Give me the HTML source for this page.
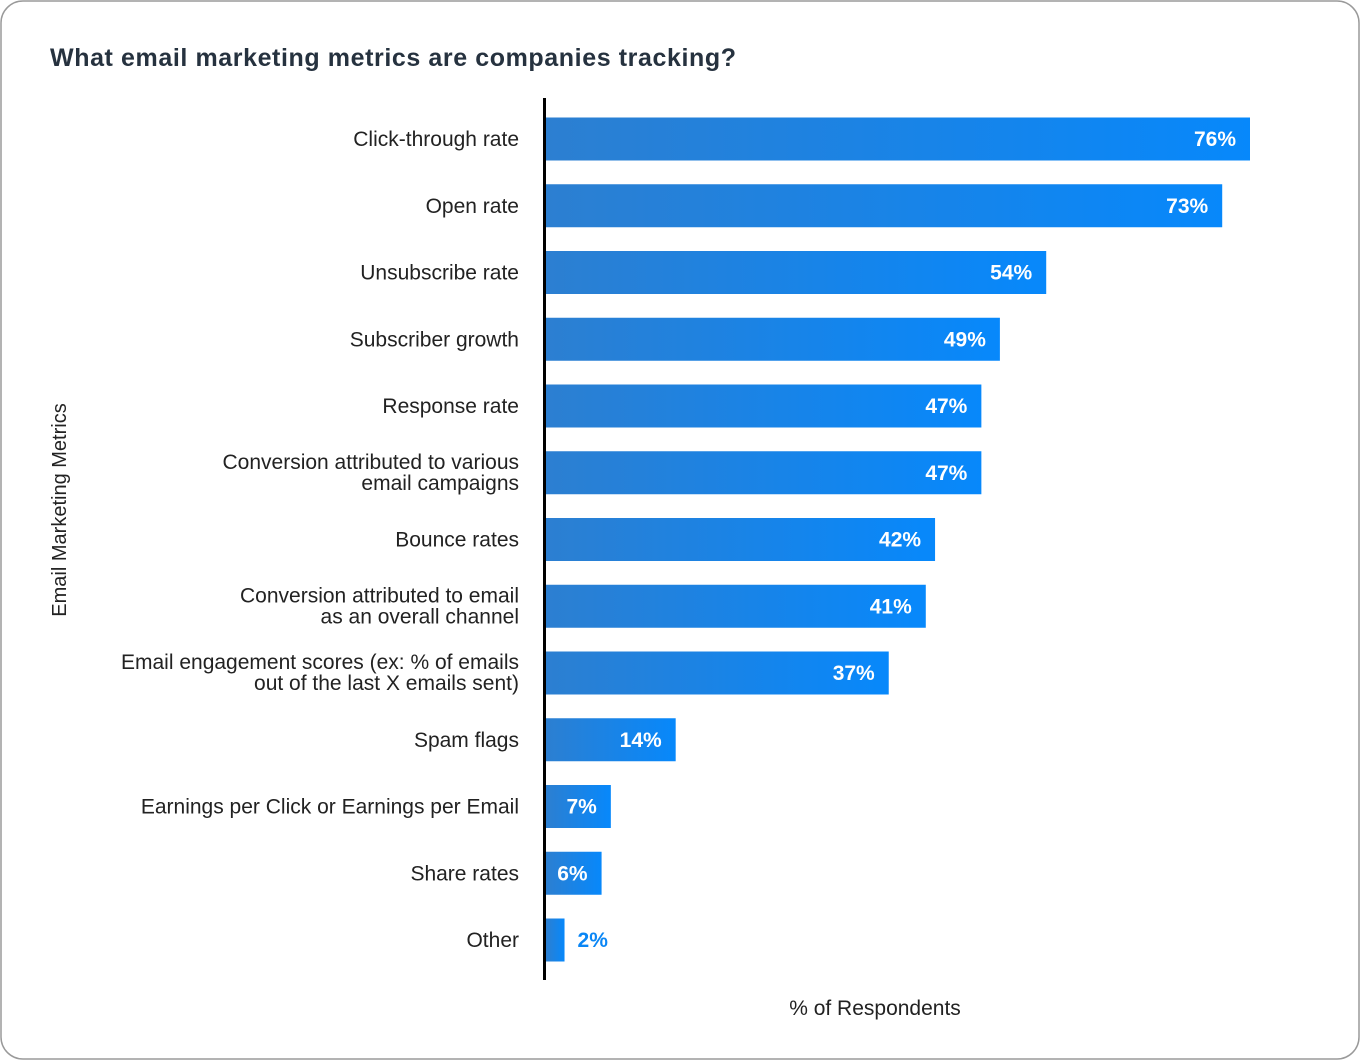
<!DOCTYPE html>
<html><head><meta charset="utf-8"><style>
body{margin:0;background:#fff;}
svg{display:block;font-family:"Liberation Sans",sans-serif;}
</style></head><body>
<svg id="c" width="1360" height="1061">
<defs><linearGradient id="g" x1="0" y1="0" x2="1" y2="0"><stop offset="0" stop-color="#2c7fd1"/><stop offset="1" stop-color="#0788fb"/></linearGradient></defs>
<rect x="1" y="1" width="1358" height="1058" rx="22" fill="#fff" stroke="#9a9a9a" stroke-width="1.5"/>
<text x="50" y="66" font-size="25" font-weight="bold" fill="#26323f" textLength="686">What email marketing metrics are companies tracking?</text>
<text transform="translate(66,510) rotate(-90)" text-anchor="middle" font-size="20" fill="#222">Email Marketing Metrics</text>
<text x="875" y="1015" text-anchor="middle" font-size="21" fill="#222">% of Respondents</text>
<g id="bars"></g>
<line x1="544.5" y1="98" x2="544.5" y2="980" stroke="#000" stroke-width="3"/>
</svg>
<script>
const categories=[["Click-through rate"],["Open rate"],["Unsubscribe rate"],["Subscriber growth"],["Response rate"],["Conversion attributed to various","email campaigns"],["Bounce rates"],["Conversion attributed to email","as an overall channel"],["Email engagement scores (ex: % of emails","out of the last X emails sent)"],["Spam flags"],["Earnings per Click or Earnings per Email"],["Share rates"],["Other"]];
const values=[76,73,54,49,47,47,42,41,37,14,7,6,2];
const valueLabels=["76%","73%","54%","49%","47%","47%","42%","41%","37%","14%","7%","6%","2%"];
const x0=546,scale=(1250-546)/76;
const xs=v=>x0+v*scale;
const yc=i=>139+i*66.75;
const g=document.getElementById('bars');
const NS="http://www.w3.org/2000/svg";
categories.forEach((c,i)=>{
  const r=document.createElementNS(NS,'rect');
  
  
  const w=Math.max(9,xs(values[i])-x0);
  r.setAttribute('x',x0);r.setAttribute('y',yc(i)-21.5);r.setAttribute('width',w);r.setAttribute('height',43);r.setAttribute('fill','url(#g)');
  g.appendChild(r);
  const t=document.createElementNS(NS,'text');
  
  
  t.setAttribute('x',519);t.setAttribute('text-anchor','end');t.setAttribute('font-size','21');t.setAttribute('fill','#222');
  if(c.length===1){t.setAttribute('y',yc(i)+7);t.textContent=c[0];}
  else{c.forEach((s,k)=>{const ts=document.createElementNS(NS,'tspan');ts.setAttribute('x',519);ts.setAttribute('y',yc(i)-4+k*21);ts.textContent=s;t.appendChild(ts);});}
  g.appendChild(t);
  const v=document.createElementNS(NS,'text');
  
  
  v.setAttribute('font-size','21');v.setAttribute('font-weight','bold');v.setAttribute('y',yc(i)+7);
  const end=x0+w;
  if(w>40){v.setAttribute('x',end-14);v.setAttribute('text-anchor','end');v.setAttribute('fill','#fff');}
  else{v.setAttribute('x',end+13);v.setAttribute('fill','#0a86f5');}
  v.textContent=valueLabels[i];
  g.appendChild(v);
});
</script>
</body></html>
